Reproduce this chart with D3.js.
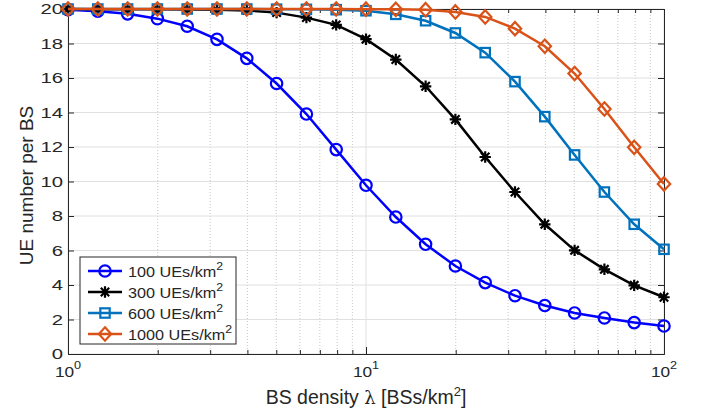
<!DOCTYPE html>
<html>
<head>
<meta charset="utf-8">
<script src="https://cdn.jsdelivr.net/npm/d3@7"></script>
<style>
  body { margin: 0; background: #fff; }
  text { font-family: "Liberation Sans", Arial, sans-serif; fill: #262626; }
</style>
</head>
<body>
<div id="chart"></div>
<script>
// data
var density = [1, 1.259, 1.585, 1.995, 2.512, 3.162, 3.981, 5.012, 6.310, 7.943, 10,
  12.59, 15.85, 19.95, 25.12, 31.62, 39.81, 50.12, 63.10, 79.43, 100];
var ue100 = [19.96, 19.87, 19.72, 19.44, 19.0, 18.24, 17.14, 15.68, 13.91, 11.85, 9.78,
  7.94, 6.36, 5.10, 4.14, 3.38, 2.81, 2.38, 2.09, 1.82, 1.62];
var ue300 = [20.0, 19.99, 19.99, 19.98, 19.97, 19.95, 19.92, 19.79, 19.50, 19.08, 18.25,
  17.07, 15.52, 13.6, 11.42, 9.39, 7.52, 6.01, 4.91, 3.98, 3.29];
var ue600 = [20.0, 20.0, 20.0, 20.0, 20.0, 20.0, 20.0, 19.99, 19.98, 19.96, 19.9,
  19.69, 19.32, 18.61, 17.47, 15.79, 13.76, 11.54, 9.39, 7.52, 6.07];
var ue1000 = [20.0, 20.0, 20.0, 20.0, 20.0, 20.0, 20.0, 20.0, 20.0, 20.0, 19.99,
  19.98, 19.96, 19.83, 19.54, 18.86, 17.84, 16.26, 14.2, 11.98, 9.86];
var seriesNames = ["100", "300", "600", "1000"];
var yTicks = [0, 2, 4, 6, 8, 10, 12, 14, 16, 18, 20];
var xTicks = [1, 10, 100];

var series = [
  { name: seriesNames[0], values: ue100, color: "#0000ff", marker: "circle" },
  { name: seriesNames[1], values: ue300, color: "#000000", marker: "star" },
  { name: seriesNames[2], values: ue600, color: "#0072bd", marker: "square" },
  { name: seriesNames[3], values: ue1000, color: "#d95319", marker: "diamond" }
];

var svgWidth = 702, svgHeight = 413;
var margin = { top: 9, right: 38, bottom: 59, left: 68 };
var chartWidth = svgWidth - margin.left - margin.right;
var chartHeight = svgHeight - margin.top - margin.bottom;
var axisColor = "#262626";

var svg = d3.select("#chart").append("svg")
  .attr("width", svgWidth)
  .attr("height", svgHeight);

var g = svg.append("g")
  .attr("transform", `translate(${margin.left}, ${margin.top})`);

var x = d3.scaleLog().domain([1, 100]).range([0, chartWidth]);
var y = d3.scaleLinear().domain([0, 20]).range([chartHeight, 0]);

// minor log ticks 2..9, 20..90
var minorTicks = [];
[1, 10].forEach(function(dec) {
  for (var m = 2; m <= 9; m++) minorTicks.push(dec * m);
});

// grid
g.append("g").selectAll("line").data(minorTicks).enter().append("line")
  .attr("x1", d => x(d)).attr("x2", d => x(d))
  .attr("y1", 0).attr("y2", chartHeight)
  .attr("stroke", "#c8c8c8").attr("stroke-width", 1)
  .attr("stroke-dasharray", "1,2");
g.append("g").selectAll("line").data(xTicks).enter().append("line")
  .attr("x1", d => x(d)).attr("x2", d => x(d))
  .attr("y1", 0).attr("y2", chartHeight)
  .attr("stroke", "#e0e0e0").attr("stroke-width", 1);
g.append("g").selectAll("line").data(yTicks).enter().append("line")
  .attr("x1", 0).attr("x2", chartWidth)
  .attr("y1", d => y(d)).attr("y2", d => y(d))
  .attr("stroke", "#e0e0e0").attr("stroke-width", 1);

// axes (inward ticks, box on)
function styleAxis(sel) {
  sel.select(".domain").attr("stroke", axisColor);
  sel.selectAll(".tick line").attr("stroke", axisColor);
  sel.selectAll(".tick text").remove();
}
g.append("g").attr("transform", `translate(0, ${chartHeight})`)
  .call(d3.axisBottom(x).tickValues(xTicks).tickSizeInner(-7).tickSizeOuter(0))
  .call(styleAxis);
g.append("g").attr("transform", `translate(0, ${chartHeight})`)
  .call(d3.axisBottom(x).tickValues(minorTicks).tickSizeInner(-4).tickSizeOuter(0))
  .call(styleAxis);
g.append("g")
  .call(d3.axisTop(x).tickValues(xTicks).tickSizeInner(-7).tickSizeOuter(0))
  .call(styleAxis);
g.append("g")
  .call(d3.axisTop(x).tickValues(minorTicks).tickSizeInner(-4).tickSizeOuter(0))
  .call(styleAxis);
g.append("g")
  .call(d3.axisLeft(y).tickValues(yTicks).tickSizeInner(-6).tickSizeOuter(0))
  .call(styleAxis);
g.append("g").attr("transform", `translate(${chartWidth}, 0)`)
  .call(d3.axisRight(y).tickValues(yTicks).tickSizeInner(-6).tickSizeOuter(0))
  .call(styleAxis);

// tick labels
g.append("g").selectAll("g").data(yTicks).enter().append("g")
  .attr("transform", d => `translate(-5, ${y(d)})`)
  .append("text")
  .attr("transform", "scale(1.4,1)")
  .attr("text-anchor", "end")
  .attr("dy", "0.36em")
  .attr("font-size", 14.5)
  .text(d => d);

var xLab = g.append("g").selectAll("g").data(xTicks).enter().append("g")
  .attr("transform", d => `translate(${x(d)}, ${chartHeight + 23})`)
  .append("text")
  .attr("transform", "scale(1.15,1)")
  .attr("text-anchor", "middle")
  .attr("font-size", 15);
xLab.append("tspan").text("10");
xLab.append("tspan").attr("dy", -8).attr("font-size", 11).text(d => Math.round(Math.log10(d)));

// axis titles
var xTitle = g.append("text")
  .attr("x", chartWidth / 2 + 0)
  .attr("y", chartHeight + 50)
  .attr("text-anchor", "middle")
  .attr("font-size", 19.5);
xTitle.append("tspan").text("BS density ");
xTitle.append("tspan").attr("font-family", "'DejaVu Serif', serif").attr("font-size", 18).text("λ");
xTitle.append("tspan").text(" [BSs/km");
xTitle.append("tspan").attr("dy", -8).attr("font-size", 13).text("2");
xTitle.append("tspan").attr("dy", 8).text("]");

g.append("text")
  .attr("transform", `translate(${-35}, ${chartHeight / 2 + 4}) rotate(-90)`)
  .attr("text-anchor", "middle")
  .attr("font-size", 19)
  .text("UE number per BS");

// markers
function drawMarker(sel, type, color) {
  if (type === "circle") {
    sel.append("circle").attr("r", 5.7);
  } else if (type === "square") {
    sel.append("rect").attr("x", -4.7).attr("y", -4.7).attr("width", 9.4).attr("height", 9.4);
  } else if (type === "diamond") {
    sel.append("path").attr("d", "M0,-6.7L6.2,0L0,6.7L-6.2,0Z");
  } else {
    sel.append("path").attr("d", "M-5.7,0H5.7M0,-5.7V5.7M-4.2,-4.2L4.2,4.2M-4.2,4.2L4.2,-4.2");
  }
  sel.selectAll("*").attr("fill", "none").attr("stroke", color).attr("stroke-width", 2.2);
}

var line = d3.line()
  .x((d, i) => x(density[i]))
  .y(d => y(d));

series.forEach(function(s) {
  g.append("path")
    .datum(s.values)
    .attr("fill", "none")
    .attr("stroke", s.color)
    .attr("stroke-width", 2.5)
    .attr("d", line);
  g.append("g").selectAll("g").data(s.values).enter().append("g")
    .attr("transform", (d, i) => `translate(${x(density[i])}, ${y(d)})`)
    .each(function() { drawMarker(d3.select(this), s.marker, s.color); });
});

// legend
var legend = svg.append("g").attr("transform", "translate(80, 257)");
legend.append("rect")
  .attr("width", 156).attr("height", 87)
  .attr("fill", "#fff").attr("stroke", axisColor).attr("stroke-width", 1);
var rows = legend.selectAll("g.row").data(series).enter().append("g")
  .attr("class", "row")
  .attr("transform", (d, i) => `translate(0, ${14 + i * 21})`);
rows.append("line")
  .attr("x1", 8).attr("x2", 42)
  .attr("stroke", d => d.color).attr("stroke-width", 2.5);
rows.append("g").attr("transform", "translate(25, 0)")
  .each(function(d) { drawMarker(d3.select(this), d.marker, d.color); });
var lt = rows.append("g").attr("transform", "translate(48, 0)")
  .append("text")
  .attr("transform", "scale(1.12,1)")
  .attr("dy", "0.4em")
  .attr("font-size", 14.5);
lt.append("tspan").text(d => d.name + " UEs/km");
lt.append("tspan").attr("dy", -7).attr("font-size", 11).text("2");
</script>
</body>
</html>
